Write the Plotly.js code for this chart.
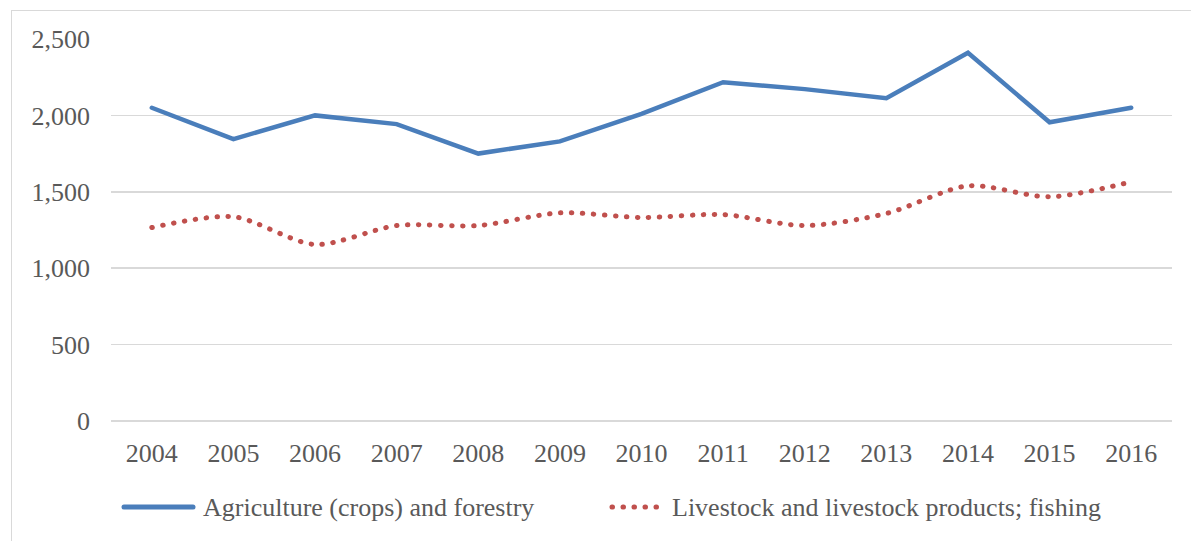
<!DOCTYPE html>
<html>
<head>
<meta charset="utf-8">
<script src="https://cdn.plot.ly/plotly-3.0.1.min.js"></script>
<style>
html,body{margin:0;padding:0;background:#fff;}
#wrap{position:relative;width:1191px;height:541px;overflow:hidden;}
#chart{width:1191px;height:541px;}
#frame{position:absolute;left:11px;top:10px;width:1300px;height:700px;border-left:1.5px solid #d9d9d9;border-top:1.5px solid #d9d9d9;pointer-events:none;}
.js-line, .shapelayer path{stroke-linecap:round;}
</style>
</head>
<body>
<div id="wrap"><div id="chart"></div><div id="frame"></div></div>
<script>
const years = ['2004','2005','2006','2007','2008','2009','2010','2011','2012','2013','2014','2015','2016'];
const agriculture = [2050,1845,2000,1943,1750,1830,2010,2217,2172,2112,2410,1955,2050];
const livestock = [1266,1337,1155,1279,1279,1362,1332,1351,1279,1358,1539,1467,1565];
const seriesNames = ['Agriculture (crops) and forestry','Livestock and livestock products; fishing'];

const BLUE = '#4a7ebb';
const RED = '#c0504d';
const TXT = '#595959';
const FONT = '"Liberation Serif", "Times New Roman", serif';

const W = 1191, H = 541;
const M = {l:111, r:19, t:39, b:120};
const pw = W - M.l - M.r, ph = H - M.t - M.b;
const px2x = p => (p - M.l) / pw;
const py2y = p => (H - M.b - p) / ph;

const traces = [
  {x: years, y: agriculture, name: seriesNames[0], type:'scatter', mode:'lines',
   line:{color:BLUE, width:4.5}, showlegend:false},
  {x: years, y: livestock, name: seriesNames[1], type:'scatter', mode:'lines',
   line:{color:RED, width:5, dash:'0.5px,10.5px', shape:'spline', smoothing:0.8}, showlegend:false}
];

const legY = py2y(507);
const layout = {
  width: W, height: H, autosize:false,
  margin: M,
  paper_bgcolor:'rgba(0,0,0,0)', plot_bgcolor:'rgba(0,0,0,0)',
  font:{family:FONT, size:26, color:TXT},
  separators:'.,',
  showlegend:false,
  xaxis:{type:'category', range:[-0.5,12.5], showgrid:false, zeroline:false, showline:false,
         ticks:'', ticklabelstandoff:14, tickfont:{family:FONT, size:26, color:TXT}, fixedrange:true},
  yaxis:{range:[0,2500], dtick:500, tickformat:',d', showgrid:true, gridcolor:'#d9d9d9', gridwidth:1.5,
         zeroline:true, zerolinecolor:'#d9d9d9', zerolinewidth:1.5, showline:false, ticks:'',
         ticklabelstandoff:20, tickfont:{family:FONT, size:26, color:TXT}, fixedrange:true},
  shapes:[
    {type:'line', xref:'paper', yref:'paper', x0:px2x(124), x1:px2x(193), y0:legY, y1:legY,
     line:{color:BLUE, width:5}},
    {type:'line', xref:'paper', yref:'paper', x0:px2x(612), x1:px2x(662), y0:legY, y1:legY,
     line:{color:RED, width:5, dash:'0.5px,10.5px'}}
  ],
  annotations:[
    {xref:'paper', yref:'paper', x:px2x(201), y:legY, xanchor:'left', yanchor:'middle',
     text:seriesNames[0], showarrow:false, font:{family:FONT, size:26, color:TXT}},
    {xref:'paper', yref:'paper', x:px2x(670), y:legY, xanchor:'left', yanchor:'middle',
     text:seriesNames[1], showarrow:false, font:{family:FONT, size:26, color:TXT}}
  ]
};

Plotly.newPlot('chart', traces, layout, {staticPlot:true, displayModeBar:false});
</script>
</body>
</html>
